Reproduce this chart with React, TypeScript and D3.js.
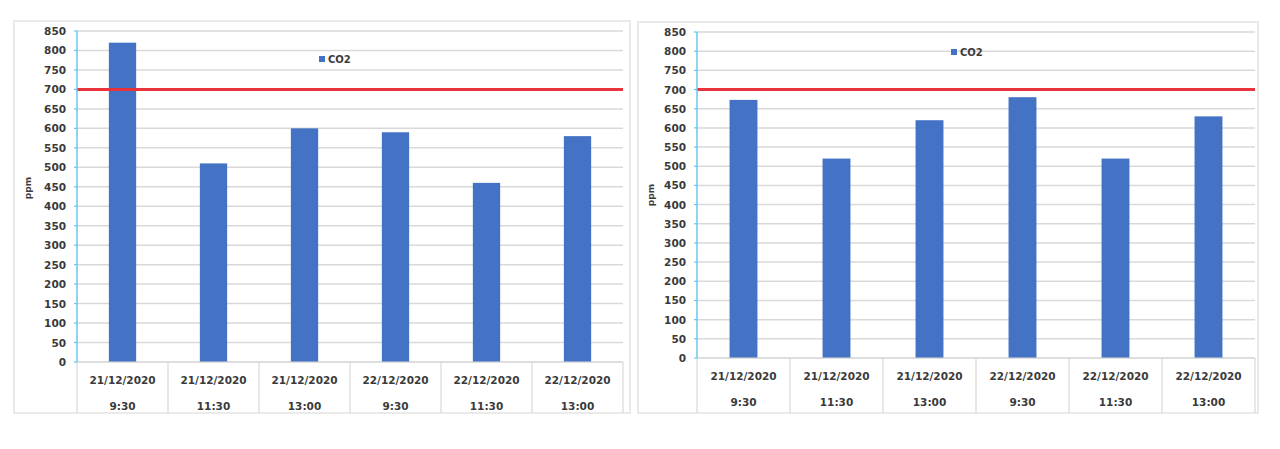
import React from "react";
import * as d3 from "d3";

const categoryDates = ["21/12/2020", "21/12/2020", "21/12/2020", "22/12/2020", "22/12/2020", "22/12/2020"];
const categoryTimes = ["9:30", "11:30", "13:00", "9:30", "11:30", "13:00"];
const co2Left = [820, 510, 600, 590, 460, 580];
const co2Right = [673, 520, 620, 680, 520, 630];
const limitValue = 700;
const yTicks = d3.range(0, 851, 50);
const seriesName = "CO2";
const axisTitle = "ppm";

const FONT = "'DejaVu Sans', sans-serif";
const BAR = "#4472C4";
const GRID = "#d9d9d9";
const TEXT = "#3a3a3a";

type Layout = {
  frame: [number, number, number, number];
  x0: number; x1: number; yTop: number; yBot: number; rowBot: number;
  legend: [number, number];
  ppm: [number, number];
};

const layoutA: Layout = { frame: [14, 21, 630, 413], x0: 77, x1: 623, yTop: 31, yBot: 362, rowBot: 413, legend: [319, 59], ppm: [28, 188] };
const layoutB: Layout = { frame: [638, 22, 1258, 413], x0: 697, x1: 1255, yTop: 32, yBot: 358, rowBot: 413, legend: [951, 52], ppm: [651, 195] };

function Chart({ values, L }: { values: number[]; L: Layout }) {
  const idx = values.map((_, i) => String(i));
  const x = d3.scaleBand<string>().domain(idx).range([L.x0, L.x1]).paddingInner(0).paddingOuter(0);
  const y = d3.scaleLinear().domain([0, 850]).range([L.yBot, L.yTop]);
  const bw = x.bandwidth() * 0.3;
  const [fx0, fy0, fx1, fy1] = L.frame;
  return (
    <g>
      <rect x={fx0} y={fy0} width={fx1 - fx0} height={fy1 - fy0} fill="#fff" stroke="#e3e3e3" strokeWidth={1.5} />
      {yTicks.map((t) => (
        <line key={"g" + t} x1={L.x0} x2={L.x1} y1={y(t)} y2={y(t)} stroke={GRID} strokeWidth={1.5} />
      ))}
      {values.map((v, i) => (
        <rect key={"b" + i} x={(x(String(i)) as number) + (x.bandwidth() - bw) / 2} y={y(v)} width={bw} height={y(0) - y(v)} fill={BAR} />
      ))}
      <line x1={L.x0} x2={L.x1} y1={y(limitValue)} y2={y(limitValue)} stroke="#e8323c" strokeWidth={3} />
      {/* category table */}
      <line x1={L.x0} x2={L.x1} y1={L.yBot} y2={L.yBot} stroke={GRID} strokeWidth={1.2} />
      {idx.map((k) => (
        <line key={"d" + k} x1={(x(k) as number) + x.bandwidth()} x2={(x(k) as number) + x.bandwidth()} y1={L.yBot} y2={L.rowBot} stroke={GRID} strokeWidth={1.2} />
      ))}
      <line x1={L.x0} x2={L.x0} y1={L.yBot} y2={L.rowBot} stroke={GRID} strokeWidth={1.2} />
      {idx.map((k, i) => (
        <g key={"c" + k} fontFamily={FONT} fontWeight="bold" fontSize={10.5} fill={TEXT} textAnchor="middle">
          <text x={(x(k) as number) + x.bandwidth() / 2} y={L.yBot + 18} dominantBaseline="central">{categoryDates[i]}</text>
          <text x={(x(k) as number) + x.bandwidth() / 2} y={L.yBot + 44} dominantBaseline="central">{categoryTimes[i]}</text>
        </g>
      ))}
      {/* y axis */}
      <line x1={L.x0} x2={L.x0} y1={L.yTop} y2={L.yBot} stroke="#6cc6ec" strokeWidth={1.5} />
      {yTicks.map((t) => (
        <g key={"t" + t}>
          <line x1={L.x0 - 3} x2={L.x0} y1={y(t)} y2={y(t)} stroke="#6cc6ec" strokeWidth={1.2} />
          <text x={L.x0 - 11} y={y(t)} dominantBaseline="central" textAnchor="end" fontFamily={FONT} fontWeight="bold" fontSize={10.5} fill={TEXT}>{t}</text>
        </g>
      ))}
      <text transform={`translate(${L.ppm[0]},${L.ppm[1]}) rotate(-90)`} textAnchor="middle" dominantBaseline="central" fontFamily={FONT} fontWeight="bold" fontSize={9} fill={TEXT}>{axisTitle}</text>
      {/* legend */}
      <rect x={L.legend[0]} y={L.legend[1] - 3} width={6} height={6} fill={BAR} />
      <text x={L.legend[0] + 9} y={L.legend[1]} dominantBaseline="central" fontFamily={FONT} fontWeight="bold" fontSize={10} fill={TEXT}>{seriesName}</text>
    </g>
  );
}

export default function App() {
  return (
    <svg width={1280} height={449} style={{ position: "absolute", left: 0, top: 0, background: "#fff" }}>
      <rect x={0} y={0} width={1280} height={449} fill="#fff" />
      <Chart values={co2Left} L={layoutA} />
      <Chart values={co2Right} L={layoutB} />
    </svg>
  );
}
